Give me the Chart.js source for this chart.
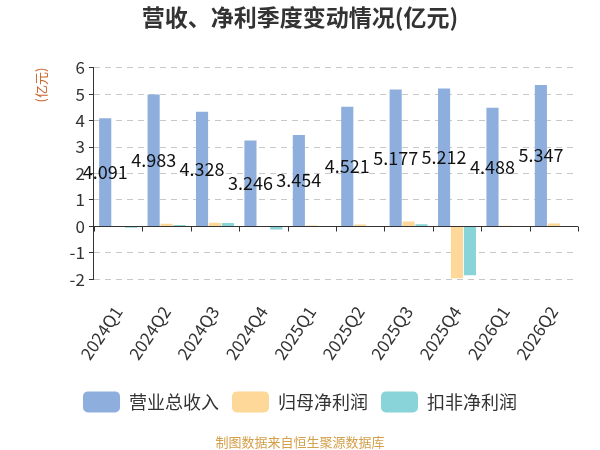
<!DOCTYPE html>
<html>
<head>
<meta charset="utf-8">
<script src="https://cdn.jsdelivr.net/npm/chart.js@4"></script>
<style>
  html, body { margin: 0; padding: 0; background: #fff; }
  #wrap { width: 600px; height: 450px; }
</style>
</head>
<body>
<div id="wrap"><canvas id="chart-quarterly"></canvas></div>
<script>
const quarters = ['2024Q1', '2024Q2', '2024Q3', '2024Q4', '2025Q1', '2025Q2', '2025Q3', '2025Q4', '2026Q1', '2026Q2'];
const revenue = [4.091, 4.983, 4.328, 3.246, 3.454, 4.521, 5.177, 5.212, 4.488, 5.347];
const parentProfit = [0.01, 0.1, 0.14, 0.02, 0.04, 0.07, 0.19, -1.96, 0.03, 0.11];
const deductedProfit = [-0.05, 0.06, 0.13, -0.11, 0.0, 0.0, 0.08, -1.84, 0.0, 0.0];
const yTicks = [-2, -1, 0, 1, 2, 3, 4, 5, 6];

const FONT = "'Noto Sans CJK SC', 'Noto Sans', sans-serif";

// zero axis line + category ticks, like the original which puts the x axis on 0
const zeroAxis = {
  id: 'zeroAxis',
  afterDatasetsDraw(chart) {
    const { ctx, chartArea, scales } = chart;
    const y0 = Math.round(scales.y.getPixelForValue(0)) + 0.5;
    const x = scales.x;
    const step = x.width / quarters.length;
    ctx.save();
    ctx.strokeStyle = '#333';
    ctx.lineWidth = 1;
    ctx.beginPath();
    ctx.moveTo(chartArea.left, y0);
    ctx.lineTo(chartArea.right, y0);
    for (let i = 0; i <= quarters.length; i++) {
      const px = Math.round(x.left + step * i) + 0.5;
      ctx.moveTo(px, y0);
      ctx.lineTo(px, y0 + 5);
    }
    ctx.stroke();
    ctx.restore();
  }
};

// revenue values, drawn in the middle of each revenue bar
const revenueLabels = {
  id: 'revenueLabels',
  afterDatasetsDraw(chart) {
    const { ctx } = chart;
    const meta = chart.getDatasetMeta(0);
    ctx.save();
    ctx.font = '18px ' + FONT;
    ctx.fillStyle = '#111';
    ctx.textAlign = 'center';
    ctx.textBaseline = 'middle';
    meta.data.forEach((bar, i) => {
      const mid = (bar.y + bar.base) / 2;
      ctx.fillText(revenue[i].toFixed(3), bar.x, mid);
    });
    ctx.restore();
  }
};

new Chart(document.getElementById('chart-quarterly'), {
  type: 'bar',
  data: {
    labels: quarters,
    datasets: [
      { label: '营业总收入', data: revenue, backgroundColor: '#8eafdd' },
      { label: '归母净利润', data: parentProfit, backgroundColor: '#fed898' },
      { label: '扣非净利润', data: deductedProfit, backgroundColor: '#88d4d8' }
    ]
  },
  options: {
    responsive: true,
    maintainAspectRatio: false,
    animation: false,
    layout: { padding: { left: 22, right: 22, top: 0, bottom: 0 } },
    datasets: {
      bar: { categoryPercentage: 0.8, barPercentage: 0.94 }
    },
    scales: {
      x: {
        grid: { display: false },
        border: { display: false },
        ticks: {
          color: '#333',
          font: { family: FONT, size: 17 },
          minRotation: 56,
          maxRotation: 56,
          padding: 15
        }
      },
      y: {
        min: -2,
        max: 6,
        afterBuildTicks: (axis) => { axis.ticks = yTicks.map((v) => ({ value: v })); },
        ticks: {
          color: '#333',
          font: { family: FONT, size: 17 },
          padding: 4
        },
        grid: {
          color: (c) => (c.tick && c.tick.value === 0 ? 'rgba(0,0,0,0)' : '#c8c8c8'),
          tickColor: '#333',
          tickLength: 5
        },
        border: { display: true, color: '#333', dash: [6, 5] },
        title: {
          display: true,
          text: '(亿元)',
          align: 'end',
          color: '#c8642c',
          font: { family: FONT, size: 13 },
          padding: { top: 11, bottom: 17 }
        }
      }
    },
    plugins: {
      title: {
        display: true,
        text: '营收、净利季度变动情况(亿元)',
        color: '#333',
        font: { family: FONT, size: 23, weight: 'bold' },
        padding: { top: 3, bottom: 37 }
      },
      legend: {
        position: 'bottom',
        labels: {
          boxWidth: 37,
          boxHeight: 21,
          useBorderRadius: true,
          borderRadius: 5,
          padding: 13,
          color: '#333',
          font: { family: FONT, size: 18 }
        }
      },
      subtitle: {
        display: true,
        position: 'bottom',
        text: '制图数据来自恒生聚源数据库',
        color: '#d4a04a',
        font: { family: FONT, size: 13 },
        padding: { top: 12, bottom: 0 }
      },
      tooltip: { enabled: false }
    }
  },
  plugins: [zeroAxis, revenueLabels]
});
</script>
</body>
</html>
